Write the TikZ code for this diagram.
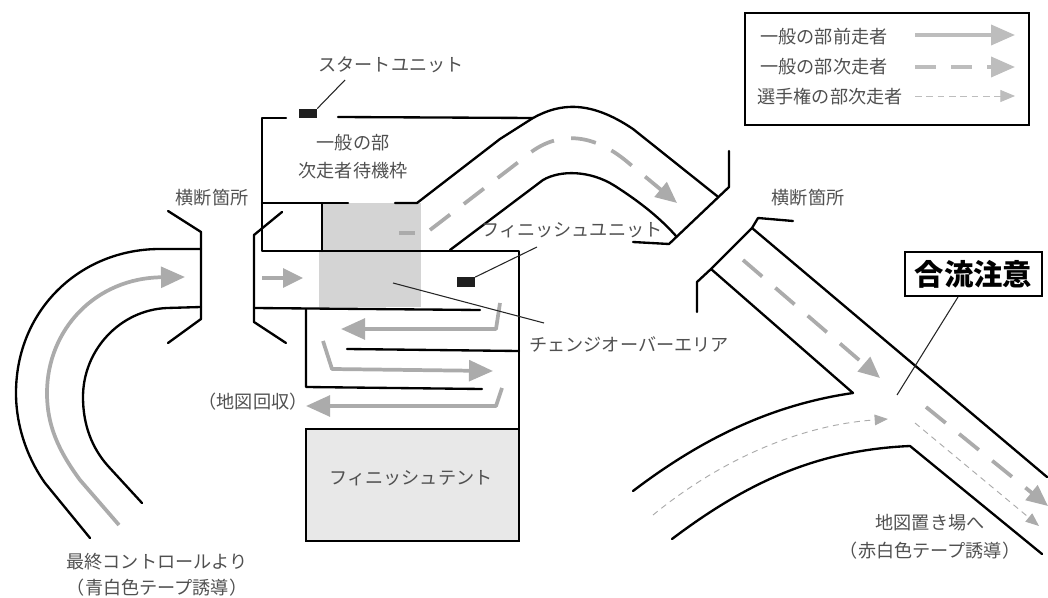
\documentclass[tikz,border=0pt]{standalone}
\usepackage{fontspec}
\newfontfamily\jp{Noto Sans CJK JP}
\usetikzlibrary{arrows.meta}
\definecolor{txt}{HTML}{505050}
\definecolor{arr}{HTML}{ABABAB}
\definecolor{leg}{HTML}{BDBDBD}
\tikzset{
  wall/.style={line width=1.75pt,black,line cap=round,line join=round},
  leader/.style={line width=0.8pt,black!85},
  lbl/.style={font=\jp\fontsize{13.6}{15}\selectfont,text=txt,inner sep=0pt},
  unitbox/.style={fill=black!88,draw=none,minimum width=13.5pt,minimum height=7pt,inner sep=0pt},
  runsolid/.style={line width=2.8pt,draw=arr,line join=round,-{Triangle[length=18pt,width=15.5pt,fill=arr]}},
  rundash/.style={line width=2.8pt,draw=arr,dash pattern=on 19pt off 13pt,-{Triangle[length=16pt,width=14pt,fill=arr]}},
  runthin/.style={line width=0.7pt,draw=arr,dash pattern=on 4.5pt off 3.5pt,-{Triangle[length=10pt,width=8pt,fill=arr]}},
}
\begin{document}
\begin{tikzpicture}[x=0.75pt,y=-0.75pt]
\useasboundingbox (0,0) rectangle (1048,598);
% grey change-over area
\fill[black!17] (322,203) rectangle (421,251);
\fill[black!17] (319,251) rectangle (421,307);
% finish tent
\node[draw=black,line width=1.75pt,fill=black!9,minimum width=159.7pt,minimum height=84pt,inner sep=0pt,lbl] (tent) at (412.5,485) {};
\node[lbl] (tentlabel) at (411,478) {フィニッシュテント};
% left road
\draw[wall] (201,249) -- (160,249) .. controls (80,249) and (16,310) .. (16,393) .. controls (16,430) and (30,462) .. (45,483) -- (90,538);
\draw[wall] (201,307) -- (167,308) .. controls (120,310) and (83,350) .. (83,397) .. controls (83,425) and (92,448) .. (108,466) -- (142,503);
\draw[wall] (168,211) -- (201,232) -- (201,319) -- (168,343);
\draw[wall] (282,212) -- (254,235) -- (254,322) -- (286,343);
% waiting box
\draw[wall] (286,118) -- (262,118) -- (262,251) -- (519,251) -- (519,429);
\draw[wall] (338,117) -- (533,118);
\draw[wall] (262,203) -- (348,203);
\draw[wall] (322,203) -- (322,251);
% curved road
\draw[wall] (395,203) -- (417,203) -- (500,139) -- (533,118) .. controls (560,103) and (590,100) .. (633,129) -- (717,196);
\draw[wall] (450,250) -- (543,180) .. controls (560,170) and (590,170) .. (615,186) .. controls (640,202) and (660,218) .. (676,236);
\draw[wall] (729,151) -- (729,187) -- (669,244) -- (633,242);
% lower lanes
\draw[wall] (254,308) -- (480,310);
\draw[wall] (306,309) -- (306,387) -- (482,389);
\draw[wall] (347,349) -- (519,351);
% right road
\draw[wall] (793,221) -- (758,218) -- (752,228) -- (711,269) -- (697,282) -- (697,312);
\draw[wall] (752,228) -- (1047,477);
\draw[wall] (711,269) -- (853,393) .. controls (770,405) and (700,440) .. (633,491);
\draw[wall] (672,539) .. controls (750,480) and (820,450) .. (910,446) -- (1042,554);
% running arrows
\draw[runsolid] (119,525) -- (80,480) .. controls (58,450) and (47,425) .. (47,393) .. controls (47,330) and (95,278) .. (185,277);
\draw[runsolid,-{Triangle[length=15pt,width=14pt,fill=arr]}] (262,278) -- (303,278);
\draw[runsolid] (500,303) -- (496,329) -- (341,329);
\draw[runsolid] (323,341) -- (332,369) -- (493,371);
\draw[runsolid] (502,388) -- (496,406) -- (306,406);
\draw[rundash,-] (399,233) -- (415,233);
\draw[rundash] (430,230) -- (525,157) .. controls (550,135) and (585,128) .. (625,160) -- (677,203);
\draw[rundash] (743,260) -- (880,378);
\draw[rundash] (926,407) -- (1048,506);
\draw[runthin] (653,515) .. controls (720,460) and (800,425) .. (888,419);
\draw[runthin] (915,423) -- (1039,526);
% units and leaders
\node[unitbox] (startunit) at (308,113.5) {};
\node[unitbox] (finishunit) at (466,282) {};
\coordinate (startend) at (345,80);
\coordinate (finishend) at (537,247);
\coordinate (zonestart) at (393,283);
\coordinate (zoneend) at (544,323);
\coordinate (mergept) at (897,395);
\draw[leader] (startunit.north east) -- (startend);
\draw[leader] (finishunit.north east) -- (finishend);
\draw[leader] (zonestart) -- (zoneend);
% labels
\node[lbl] (startlabel) at (391,65) {スタートユニット};
\node[lbl] (waita) at (353,143) {一般の部};
\node[lbl] (waitb) at (353,171) {次走者待機枠};
\node[lbl] (crossl) at (212,198) {横断箇所};
\node[lbl] (crossr) at (808,198) {横断箇所};
\node[lbl] (finishlabel) at (572,230) {フィニッシュユニット};
\node[lbl] (zonelabel) at (629,344) {チェンジオーバーエリア};
\node[lbl] (maplabel) at (253,402) {（地図回収）};
\node[lbl] (fromctrl) at (157,562) {最終コントロールより};
\node[lbl] (fromctrlb) at (157,588) {（青白色テープ誘導）};
\node[lbl] (tomap) at (930,523) {地図置き場へ};
\node[lbl] (tomapb) at (930,551) {（赤白色テープ誘導）};
% merge notice
\node[draw=black,line width=1.5pt,fill=white,minimum width=103pt,minimum height=33pt,inner sep=0pt,font=\jp\bfseries\fontsize{22}{24}\selectfont] (merge) at (973.5,274) {合流注意};
\coordinate (mergetop) at (958,297);
\draw[leader] (mergetop) -- (mergept);
% legend
\node[draw=black,line width=1.75pt,fill=white,minimum width=213pt,minimum height=84pt,inner sep=0pt] (legendbox) at (887,69) {};
\node[lbl] (lega) at (824,37) {一般の部前走者};
\node[lbl] (legb) at (824,67) {一般の部次走者};
\node[lbl] (legc) at (830,97) {選手権の部次走者};
\coordinate (la1) at (915,35); \coordinate (la2) at (1015,35);
\coordinate (lb1) at (915,67); \coordinate (lb2) at (1015,67);
\coordinate (lc1) at (915,96); \coordinate (lc2) at (1015,96);
\draw[line width=2.8pt,draw=leg,-{Triangle[length=18pt,width=15pt,fill=leg]}] (la1) -- (la2);
\draw[line width=2.8pt,draw=leg,dash pattern=on 16pt off 11pt,-{Triangle[length=18pt,width=15pt,fill=leg]}] (lb1) -- (lb2);
\draw[line width=0.7pt,draw=leg,dash pattern=on 5pt off 3.5pt,-{Triangle[length=11pt,width=9pt,fill=leg]}] (lc1) -- (lc2);
\end{tikzpicture}
\end{document}
